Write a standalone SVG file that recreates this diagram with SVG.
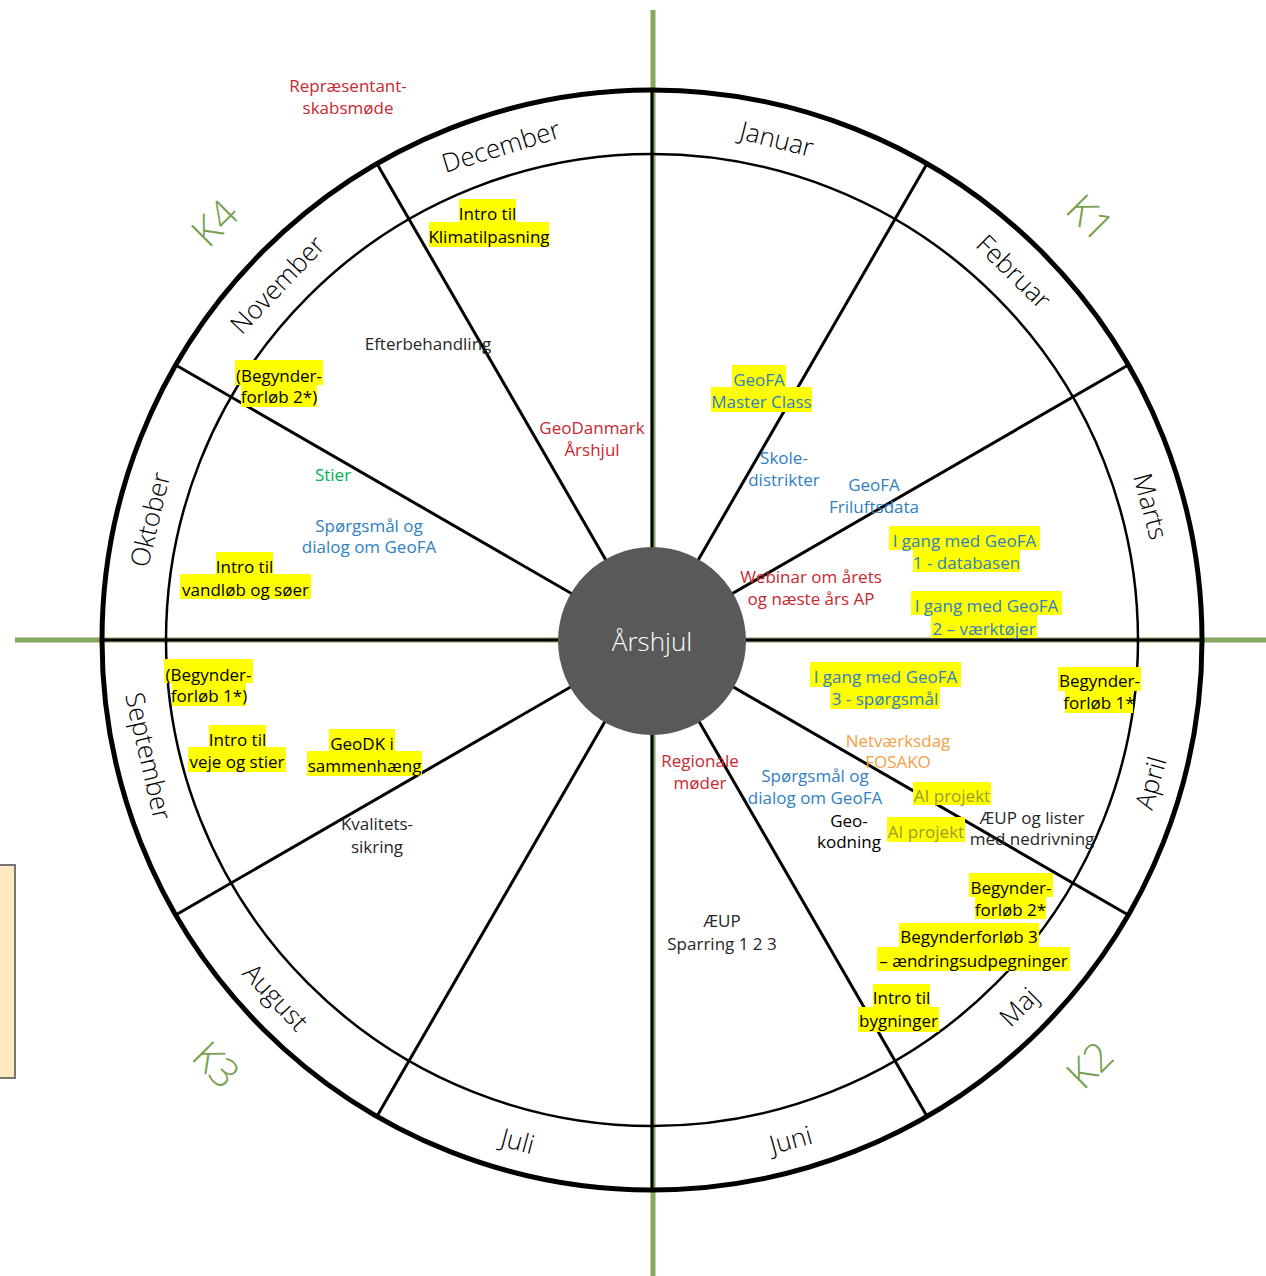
<svg xmlns="http://www.w3.org/2000/svg" width="1266" height="1276" viewBox="0 0 1266 1276">
<style>
text{font-family:"Open Sans","Noto Sans",sans-serif}
.t{font-size:17px;text-anchor:middle}
.m{font-size:26px;font-weight:300;text-anchor:middle;fill:#000}
.k{font-size:40px;font-weight:300;text-anchor:middle;fill:#77A04F}
.hl{fill:#FFFF00}
.red{fill:#C8282E}
.blue{fill:#2F7FC1}
.blk{fill:#000}
.dk{fill:#262626}
.grn{fill:#00B050}
.org{fill:#F5A043}
.ol{fill:#9A9A30}
.ax{stroke:#86A75E;stroke-width:5;fill:none}
.sp{stroke:#000;stroke-width:3;fill:none}
</style>
<rect x="0" y="0" width="1266" height="1276" fill="#fff"/>
<rect x="-3" y="865" width="18" height="213" fill="#FFE9C0" stroke="#767676" stroke-width="2"/>

<g id="axes">
<line class="ax" x1="653" y1="10" x2="653" y2="1276"/>
<line class="ax" x1="15" y1="640" x2="1266" y2="640"/>
</g>

<g id="connectors">
<circle cx="652" cy="640" r="550" fill="none" stroke="#000" stroke-width="5"/>
<circle cx="652" cy="640" r="486" fill="none" stroke="#000" stroke-width="2.5"/>
<line class="sp" x1="652" y1="640" x2="652" y2="90"/>
<line class="sp" x1="652" y1="640" x2="652" y2="90" transform="rotate(30 652 640)"/>
<line class="sp" x1="652" y1="640" x2="652" y2="90" transform="rotate(60 652 640)"/>
<line class="sp" x1="652" y1="640" x2="652" y2="90" transform="rotate(90 652 640)"/>
<line class="sp" x1="652" y1="640" x2="652" y2="90" transform="rotate(120 652 640)"/>
<line class="sp" x1="652" y1="640" x2="652" y2="90" transform="rotate(150 652 640)"/>
<line class="sp" x1="652" y1="640" x2="652" y2="90" transform="rotate(180 652 640)"/>
<line class="sp" x1="652" y1="640" x2="652" y2="90" transform="rotate(210 652 640)"/>
<line class="sp" x1="652" y1="640" x2="652" y2="90" transform="rotate(240 652 640)"/>
<line class="sp" x1="652" y1="640" x2="652" y2="90" transform="rotate(270 652 640)"/>
<line class="sp" x1="652" y1="640" x2="652" y2="90" transform="rotate(300 652 640)"/>
<line class="sp" x1="652" y1="640" x2="652" y2="90" transform="rotate(330 652 640)"/>
</g>

<g id="center">
<circle cx="652" cy="641" r="94" fill="#595959"/>
<text x="652" y="651" font-size="26" font-weight="300" text-anchor="middle" fill="#fff">Årshjul</text>
</g>

<g id="highlights">
<rect class="hl" x="459" y="199" width="57" height="23"/>
<rect class="hl" x="429" y="222" width="120" height="25"/>
<rect class="hl" x="235" y="360" width="88" height="25"/>
<rect class="hl" x="241" y="385" width="76" height="22"/>
<rect class="hl" x="216" y="552" width="57" height="22"/>
<rect class="hl" x="180" y="574" width="131" height="25"/>
<rect class="hl" x="164" y="659" width="89" height="24"/>
<rect class="hl" x="172" y="683" width="74" height="23"/>
<rect class="hl" x="209" y="725" width="57" height="22"/>
<rect class="hl" x="188" y="747" width="98" height="25"/>
<rect class="hl" x="329" y="729" width="66" height="22"/>
<rect class="hl" x="307" y="751" width="115" height="25"/>
<rect class="hl" x="732" y="365" width="54" height="22"/>
<rect class="hl" x="711" y="387" width="101" height="25"/>
<rect class="hl" x="889" y="526" width="151" height="24"/>
<rect class="hl" x="913" y="550" width="107" height="22"/>
<rect class="hl" x="911" y="591" width="151" height="24"/>
<rect class="hl" x="931" y="615" width="106" height="23"/>
<rect class="hl" x="810" y="662" width="151" height="25"/>
<rect class="hl" x="830" y="687" width="110" height="22"/>
<rect class="hl" x="1058" y="667" width="83" height="24"/>
<rect class="hl" x="1065" y="691" width="68" height="22"/>
<rect class="hl" x="913" y="782" width="78" height="23"/>
<rect class="hl" x="887" y="817" width="78" height="25"/>
<rect class="hl" x="969" y="873" width="84" height="24"/>
<rect class="hl" x="975" y="897" width="71" height="22"/>
<rect class="hl" x="899" y="923" width="140" height="24"/>
<rect class="hl" x="877" y="947" width="193" height="24"/>
<rect class="hl" x="873" y="984" width="57" height="23"/>
<rect class="hl" x="858" y="1007" width="81" height="25"/>
</g>

<g id="months">
<text class="m" x="652" y="133" transform="rotate(14 652 640)">Januar</text>
<text class="m" x="652" y="133" transform="rotate(44.5 652 640)">Februar</text>
<text class="m" x="652" y="133" transform="rotate(75 652 640)">Marts</text>
<text class="m" x="652" y="1168" transform="rotate(-74 652 640)">April</text>
<text class="m" x="652" y="1168" transform="rotate(-45 652 640)">Maj</text>
<text class="m" x="652" y="1168" transform="rotate(-15.5 652 640)">Juni</text>
<text class="m" x="652" y="1168" transform="rotate(15 652 640)">Juli</text>
<text class="m" x="652" y="1168" transform="rotate(46.5 652 640)">August</text>
<text class="m" x="652" y="1166" transform="rotate(77 652 640)">September</text>
<text class="m" x="652" y="133" transform="rotate(-76.5 652 640)">Oktober</text>
<text class="m" x="652" y="133" transform="rotate(-46.5 652 640)">November</text>
<text class="m" x="652" y="133" transform="rotate(-17 652 640)">December</text>
</g>

<g id="quarters">
<text class="k" transform="translate(1090 218) rotate(45)" x="0" y="14">K1</text>
<text class="k" transform="translate(1090 1065) rotate(-45)" x="0" y="14">K2</text>
<text class="k" transform="translate(216 1065) rotate(45)" x="0" y="14">K3</text>
<text class="k" transform="translate(215 223) rotate(-45)" x="0" y="14">K4</text>
</g>

<g id="n-repraesentant"><text class="t red" x="348" y="92">Repræsentant-</text><text class="t red" x="348" y="114">skabsmøde</text></g>
<g id="n-klima"><text class="t blk" x="487.5" y="220">Intro til</text><text class="t blk" x="489" y="243">Klimatilpasning</text></g>
<g id="n-efterbehandling"><text class="t dk" x="428" y="350">Efterbehandling</text></g>
<g id="n-begynder2-nov"><text class="t blk" x="279" y="382">(Begynder-</text><text class="t blk" x="279" y="403">forløb 2*)</text></g>
<g id="n-geodanmark"><text class="t red" x="592" y="434">GeoDanmark</text><text class="t red" x="592" y="456">Årshjul</text></g>
<g id="n-stier"><text class="t grn" x="333" y="481">Stier</text></g>
<g id="n-spm-okt"><text class="t blue" x="369" y="532">Spørgsmål og</text><text class="t blue" x="369" y="553">dialog om GeoFA</text></g>
<g id="n-vandloeb"><text class="t blk" x="244.5" y="573">Intro til</text><text class="t blk" x="245.5" y="596">vandløb og søer</text></g>
<g id="n-begynder1-sep"><text class="t blk" x="208.5" y="681">(Begynder-</text><text class="t blk" x="209" y="702">forløb 1*)</text></g>
<g id="n-veje"><text class="t blk" x="237.5" y="746">Intro til</text><text class="t blk" x="237" y="768">veje og stier</text></g>
<g id="n-geodk"><text class="t blk" x="362" y="750">GeoDK i</text><text class="t blk" x="364.5" y="772">sammenhæng</text></g>
<g id="n-kvalitet"><text class="t dk" x="377" y="830">Kvalitets-</text><text class="t dk" x="377" y="853">sikring</text></g>
<g id="n-masterclass"><text class="t blue" x="759" y="386">GeoFA</text><text class="t blue" x="761.5" y="408">Master Class</text></g>
<g id="n-skole"><text class="t blue" x="784" y="464">Skole-</text><text class="t blue" x="784" y="486">distrikter</text></g>
<g id="n-friluft"><text class="t blue" x="874" y="491">GeoFA</text><text class="t blue" x="874" y="513">Friluftsdata</text></g>
<g id="n-igang1"><text class="t blue" x="964.5" y="547">I gang med GeoFA</text><text class="t blue" x="966.5" y="569">1 - databasen</text></g>
<g id="n-webinar"><text class="t red" x="811" y="583">Webinar om årets</text><text class="t red" x="811" y="605">og næste års AP</text></g>
<g id="n-igang2"><text class="t blue" x="986.5" y="612">I gang med GeoFA</text><text class="t blue" x="984" y="635">2 – værktøjer</text></g>
<g id="n-igang3"><text class="t blue" x="885.5" y="683">I gang med GeoFA</text><text class="t blue" x="885" y="705">3 - spørgsmål</text></g>
<g id="n-begynder1-apr"><text class="t blk" x="1099.5" y="687">Begynder-</text><text class="t blk" x="1099" y="709">forløb 1*</text></g>
<g id="n-netvaerk"><text class="t org" x="898" y="747">Netværksdag</text><text class="t org" x="898" y="768">FOSAKO</text></g>
<g id="n-regionale"><text class="t red" x="700" y="767">Regionale</text><text class="t red" x="700" y="789">møder</text></g>
<g id="n-spm-maj"><text class="t blue" x="815" y="782">Spørgsmål og</text><text class="t blue" x="815" y="804">dialog om GeoFA</text></g>
<g id="n-ai1"><text class="t ol" x="952" y="802">AI projekt</text></g>
<g id="n-geokodning"><text class="t blk" x="849" y="827">Geo-</text><text class="t blk" x="849" y="848">kodning</text></g>
<g id="n-ai2"><text class="t ol" x="926" y="838">AI projekt</text></g>
<g id="n-aeup-lister"><text class="t dk" x="1032" y="824">ÆUP og lister</text><text class="t dk" x="1032" y="845">med nedrivning</text></g>
<g id="n-begynder2-maj"><text class="t blk" x="1011" y="894">Begynder-</text><text class="t blk" x="1010.5" y="916">forløb 2*</text></g>
<g id="n-begynder3"><text class="t blk" x="969" y="943">Begynderforløb 3</text><text class="t blk" x="973.5" y="967">– ændringsudpegninger</text></g>
<g id="n-bygninger"><text class="t blk" x="901.5" y="1004">Intro til</text><text class="t blk" x="898.5" y="1027">bygninger</text></g>
<g id="n-aeup-sparring"><text class="t dk" x="722" y="927">ÆUP</text><text class="t dk" x="722" y="950">Sparring 1 2 3</text></g>
</svg>
